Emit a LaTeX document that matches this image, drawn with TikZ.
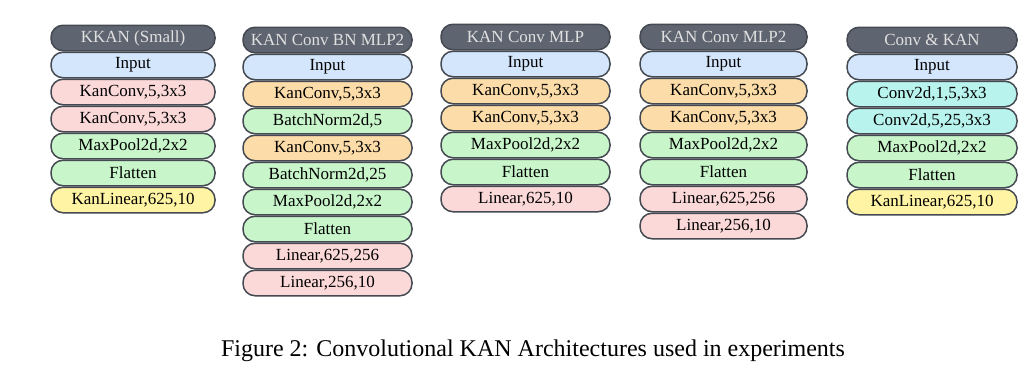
\documentclass[tikz,border=0pt]{standalone}
\usepackage{fontspec}
\setmainfont{Liberation Serif}
\definecolor{edge}{HTML}{454A52}
\definecolor{hdr}{HTML}{5E6570}
\definecolor{cblue}{HTML}{D4E6FC}
\definecolor{cpink}{HTML}{FCD9D9}
\definecolor{corange}{HTML}{FCDCA8}
\definecolor{cgreen}{HTML}{C8F5CA}
\definecolor{cyellow}{HTML}{FFF4A3}
\definecolor{ccyan}{HTML}{B8F3EE}
\tikzset{
  layer/.style={draw=edge, line width=1.5pt, rounded corners=12pt,
    minimum height=25.5pt, inner sep=0pt, anchor=center,
    font=\fontsize{17}{17}\selectfont},
  head/.style={layer, fill=hdr, text=white!88!black},
  inp/.style={layer, fill=cblue},
  pk/.style={layer, fill=cpink},
  og/.style={layer, fill=corange},
  gr/.style={layer, fill=cgreen},
  yl/.style={layer, fill=cyellow},
  cy/.style={layer, fill=ccyan},
}
\begin{document}
\begin{tikzpicture}[x=1pt,y=-1pt]
\useasboundingbox[fill=white] (0,0) rectangle (1032,372);
% column 1
\begin{scope}[every node/.append style={minimum width=164pt}]
\node[head] (a0) at (133,38) {KKAN (Small)};
\node[inp]  (a1) at (133,65) {Input};
\node[pk]   (a2) at (133,92) {KanConv,5,3x3};
\node[pk]   (a3) at (133,119) {KanConv,5,3x3};
\node[gr]   (a4) at (133,146) {MaxPool2d,2x2};
\node[gr]   (a5) at (133,173) {Flatten};
\node[yl]   (a6) at (133,200) {KanLinear,625,10};
\end{scope}
% column 2
\begin{scope}[every node/.append style={minimum width=169pt}]
\node[head] (b0) at (327.5,40) {KAN Conv BN MLP2};
\node[inp]  (b1) at (327.5,67) {Input};
\node[og]   (b2) at (327.5,94) {KanConv,5,3x3};
\node[gr]   (b3) at (327.5,121) {BatchNorm2d,5};
\node[og]   (b4) at (327.5,148) {KanConv,5,3x3};
\node[gr]   (b5) at (327.5,175) {BatchNorm2d,25};
\node[gr]   (b6) at (327.5,202) {MaxPool2d,2x2};
\node[gr]   (b7) at (327.5,229) {Flatten};
\node[pk]   (b8) at (327.5,256) {Linear,625,256};
\node[pk]   (b9) at (327.5,283) {Linear,256,10};
\end{scope}
% column 3
\begin{scope}[every node/.append style={minimum width=169pt}]
\node[head] (c0) at (525.5,37) {KAN Conv MLP};
\node[inp]  (c1) at (525.5,64) {Input};
\node[og]   (c2) at (525.5,91) {KanConv,5,3x3};
\node[og]   (c3) at (525.5,118) {KanConv,5,3x3};
\node[gr]   (c4) at (525.5,145) {MaxPool2d,2x2};
\node[gr]   (c5) at (525.5,172) {Flatten};
\node[pk]   (c6) at (525.5,199) {Linear,625,10};
\end{scope}
% column 4
\begin{scope}[every node/.append style={minimum width=167pt}]
\node[head] (d0) at (723.5,37) {KAN Conv MLP2};
\node[inp]  (d1) at (723.5,64) {Input};
\node[og]   (d2) at (723.5,91) {KanConv,5,3x3};
\node[og]   (d3) at (723.5,118) {KanConv,5,3x3};
\node[gr]   (d4) at (723.5,145) {MaxPool2d,2x2};
\node[gr]   (d5) at (723.5,172) {Flatten};
\node[pk]   (d6) at (723.5,199) {Linear,625,256};
\node[pk]   (d7) at (723.5,226) {Linear,256,10};
\end{scope}
% column 5
\begin{scope}[every node/.append style={minimum width=170pt}]
\node[head] (e0) at (932,40) {Conv \& KAN};
\node[inp]  (e1) at (932,67) {Input};
\node[cy]   (e2) at (932,94) {Conv2d,1,5,3x3};
\node[cy]   (e3) at (932,121) {Conv2d,5,25,3x3};
\node[gr]   (e4) at (932,148) {MaxPool2d,2x2};
\node[gr]   (e5) at (932,175) {Flatten};
\node[yl]   (e6) at (932,202) {KanLinear,625,10};
\end{scope}
\node[font=\fontsize{24}{26}\selectfont, inner sep=0pt] (cap) at (533,351)
  {Figure 2: Convolutional KAN Architectures used in experiments};
\end{tikzpicture}
\end{document}
